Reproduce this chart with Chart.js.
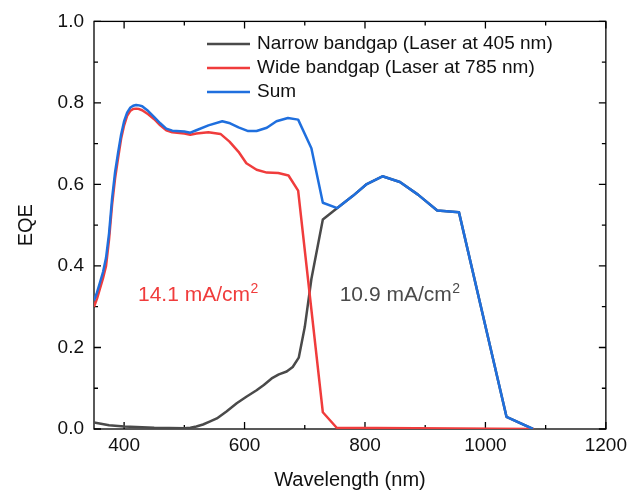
<!DOCTYPE html>
<html lang="en">
<head>
<meta charset="UTF-8">
<title>EQE spectra</title>
<script src="https://cdn.jsdelivr.net/npm/chart.js"></script>
<style>
    body { margin: 0; background: #fff; }
    .wrap { width: 632px; height: 496px; }
</style>
</head>
<body>
<div class="wrap"><canvas id="eqeChart" width="632" height="496"></canvas></div>
<script>
    // Narrow bandgap sub-cell (laser at 405 nm)
    const narrowNm  = [350, 375, 400, 450, 500, 510, 520, 531, 542, 554, 570, 587, 603, 620, 632, 645, 657, 670, 680, 690, 700, 711, 730, 754, 780, 803, 829, 858, 888, 920, 956, 1035, 1079];
    const narrowEqe = [0.016, 0.009, 0.006, 0.003, 0.002, 0.003, 0.006, 0.011, 0.018, 0.026, 0.043, 0.063, 0.079, 0.095, 0.108, 0.124, 0.134, 0.141, 0.152, 0.175, 0.25, 0.368, 0.514, 0.542, 0.572, 0.601, 0.620, 0.606, 0.575, 0.536, 0.532, 0.030, 0.0];

    // Wide bandgap sub-cell (laser at 785 nm)
    const wideNm  = [350, 355, 360, 365, 370, 375, 380, 385, 390, 395, 400, 405, 410, 415, 420, 425, 430, 440, 450, 460, 470, 480, 500, 510, 520, 540, 560, 575, 590, 603, 620, 637, 656, 673, 689, 730, 753, 1080];
    const wideEqe = [0.300, 0.320, 0.345, 0.370, 0.40, 0.465, 0.55, 0.615, 0.665, 0.712, 0.745, 0.768, 0.780, 0.785, 0.786, 0.785, 0.782, 0.772, 0.760, 0.745, 0.733, 0.728, 0.725, 0.722, 0.725, 0.728, 0.724, 0.705, 0.680, 0.652, 0.636, 0.629, 0.628, 0.622, 0.585, 0.041, 0.003, 0.0];

    // Sum of both sub-cells
    const sumNm  = [350, 355, 360, 365, 370, 375, 380, 385, 390, 395, 400, 405, 410, 415, 420, 425, 430, 440, 450, 460, 470, 480, 500, 510, 520, 540, 563, 576, 590, 606, 620, 637, 653, 672, 689, 711, 730, 754, 780, 803, 829, 858, 888, 920, 956, 1035, 1079];
    const sumEqe = [0.315, 0.335, 0.36, 0.385, 0.42, 0.48, 0.565, 0.63, 0.678, 0.722, 0.755, 0.776, 0.788, 0.793, 0.795, 0.794, 0.792, 0.780, 0.765, 0.750, 0.737, 0.732, 0.730, 0.727, 0.733, 0.745, 0.755, 0.750, 0.740, 0.731, 0.731, 0.739, 0.755, 0.763, 0.759, 0.689, 0.555, 0.542, 0.572, 0.601, 0.620, 0.606, 0.575, 0.536, 0.532, 0.030, 0.0];

    const seriesLabels = ['Narrow bandgap (Laser at 405 nm)', 'Wide bandgap (Laser at 785 nm)', 'Sum'];
    const seriesColors = ['#4a4a4a', '#f03c3c', '#1f6fde'];

    const xTickValues = [400, 600, 800, 1000, 1200];
    const xMinorTicks = [500, 700, 900, 1100];
    const yTickValues = [0, 0.2, 0.4, 0.6, 0.8, 1.0];
    const yMinorTicks = [0.1, 0.3, 0.5, 0.7, 0.9];

    // integrated current density written next to each curve
    const currentText = ['14.1', '10.9'];
    const currentNm   = [423, 758];
    const currentEqe  = [0.315, 0.315];
    const currentColors = ['#f03c3c', '#4a4a4a'];

    const FONT = '"Liberation Sans", Arial, Helvetica, sans-serif';

    function toPoints(xs, ys) {
        return xs.map((x, i) => ({ x: x, y: ys[i] }));
    }

    // box around the plot with inward ticks on all four sides
    const framePlugin = {
        id: 'frame',
        beforeDatasetsDraw(chart) {
            const { ctx, chartArea: a, scales: { x, y } } = chart;
            ctx.save();
            ctx.strokeStyle = '#000';
            ctx.lineWidth = 1.3;
            ctx.strokeRect(a.left, a.top, a.right - a.left, a.bottom - a.top);
            ctx.beginPath();
            const xTick = (v, len) => {
                const px = x.getPixelForValue(v);
                ctx.moveTo(px, a.bottom); ctx.lineTo(px, a.bottom - len);
                ctx.moveTo(px, a.top); ctx.lineTo(px, a.top + len);
            };
            const yTick = (v, len) => {
                const py = y.getPixelForValue(v);
                ctx.moveTo(a.left, py); ctx.lineTo(a.left + len, py);
                ctx.moveTo(a.right, py); ctx.lineTo(a.right - len, py);
            };
            xTickValues.forEach(v => xTick(v, 7));
            xMinorTicks.forEach(v => xTick(v, 4));
            yTickValues.forEach(v => yTick(v, 7));
            yMinorTicks.forEach(v => yTick(v, 4));
            ctx.stroke();
            ctx.restore();
        }
    };

    // legend inside the plot, upper right
    const legendPlugin = {
        id: 'insideLegend',
        afterDraw(chart) {
            const ctx = chart.ctx;
            ctx.save();
            ctx.font = '19px ' + FONT;
            ctx.textBaseline = 'middle';
            ctx.fillStyle = '#111';
            ctx.lineWidth = 2.5;
            seriesLabels.forEach((label, i) => {
                const yy = 44 + i * 24;
                ctx.strokeStyle = seriesColors[i];
                ctx.beginPath();
                ctx.moveTo(207, yy);
                ctx.lineTo(250, yy);
                ctx.stroke();
                ctx.fillText(label, 257, yy);
            });
            ctx.restore();
        }
    };

    // "xx.x mA/cm²" annotations
    const currentPlugin = {
        id: 'currentLabels',
        afterDraw(chart) {
            const { ctx, scales: { x, y } } = chart;
            ctx.save();
            ctx.textBaseline = 'alphabetic';
            currentText.forEach((t, i) => {
                const px = x.getPixelForValue(currentNm[i]);
                const py = y.getPixelForValue(currentEqe[i]);
                ctx.fillStyle = currentColors[i];
                ctx.font = '21px ' + FONT;
                const main = t + ' mA/cm';
                ctx.fillText(main, px, py);
                const w = ctx.measureText(main).width;
                ctx.font = '14px ' + FONT;
                ctx.fillText('2', px + w + 0.5, py - 8);
            });
            ctx.restore();
        }
    };

    const ctx = document.getElementById('eqeChart').getContext('2d');
    new Chart(ctx, {
        type: 'line',
        data: {
            datasets: [
                { label: seriesLabels[0], data: toPoints(narrowNm, narrowEqe), borderColor: seriesColors[0], order: 2 },
                { label: seriesLabels[1], data: toPoints(wideNm, wideEqe), borderColor: seriesColors[1], order: 1 },
                { label: seriesLabels[2], data: toPoints(sumNm, sumEqe), borderColor: seriesColors[2], order: 0 }
            ]
        },
        options: {
            responsive: false,
            animation: false,
            layout: { padding: { top: 19, right: 25, left: 0, bottom: 0 } },
            elements: {
                point: { radius: 0 },
                line: { borderWidth: 2.5, tension: 0, borderJoinStyle: 'round', fill: false }
            },
            plugins: {
                legend: { display: false },
                tooltip: { enabled: false }
            },
            scales: {
                x: {
                    type: 'linear',
                    min: 350,
                    max: 1200,
                    grid: { display: false, drawTicks: false },
                    border: { display: false },
                    afterBuildTicks: s => { s.ticks = xTickValues.map(v => ({ value: v })); },
                    afterFit: s => { s.height = 67; },
                    ticks: {
                        padding: 5,
                        color: '#111',
                        font: { family: FONT, size: 19 },
                        maxRotation: 0,
                        callback: v => String(v)
                    },
                    title: {
                        display: true,
                        text: 'Wavelength (nm)',
                        color: '#111',
                        font: { family: FONT, size: 20 },
                        padding: { top: 0, bottom: 4 }
                    }
                },
                y: {
                    type: 'linear',
                    min: 0,
                    max: 1,
                    grid: { display: false, drawTicks: false },
                    border: { display: false },
                    afterBuildTicks: s => { s.ticks = yTickValues.map(v => ({ value: v })); },
                    afterFit: s => { s.width = 94; },
                    ticks: {
                        padding: 10,
                        color: '#111',
                        font: { family: FONT, size: 19 },
                        callback: v => v.toFixed(1)
                    },
                    title: {
                        display: true,
                        text: 'EQE',
                        color: '#111',
                        font: { family: FONT, size: 20 },
                        padding: { top: 14, bottom: 0 }
                    }
                }
            }
        },
        plugins: [framePlugin, legendPlugin, currentPlugin]
    });
</script>
</body>
</html>
